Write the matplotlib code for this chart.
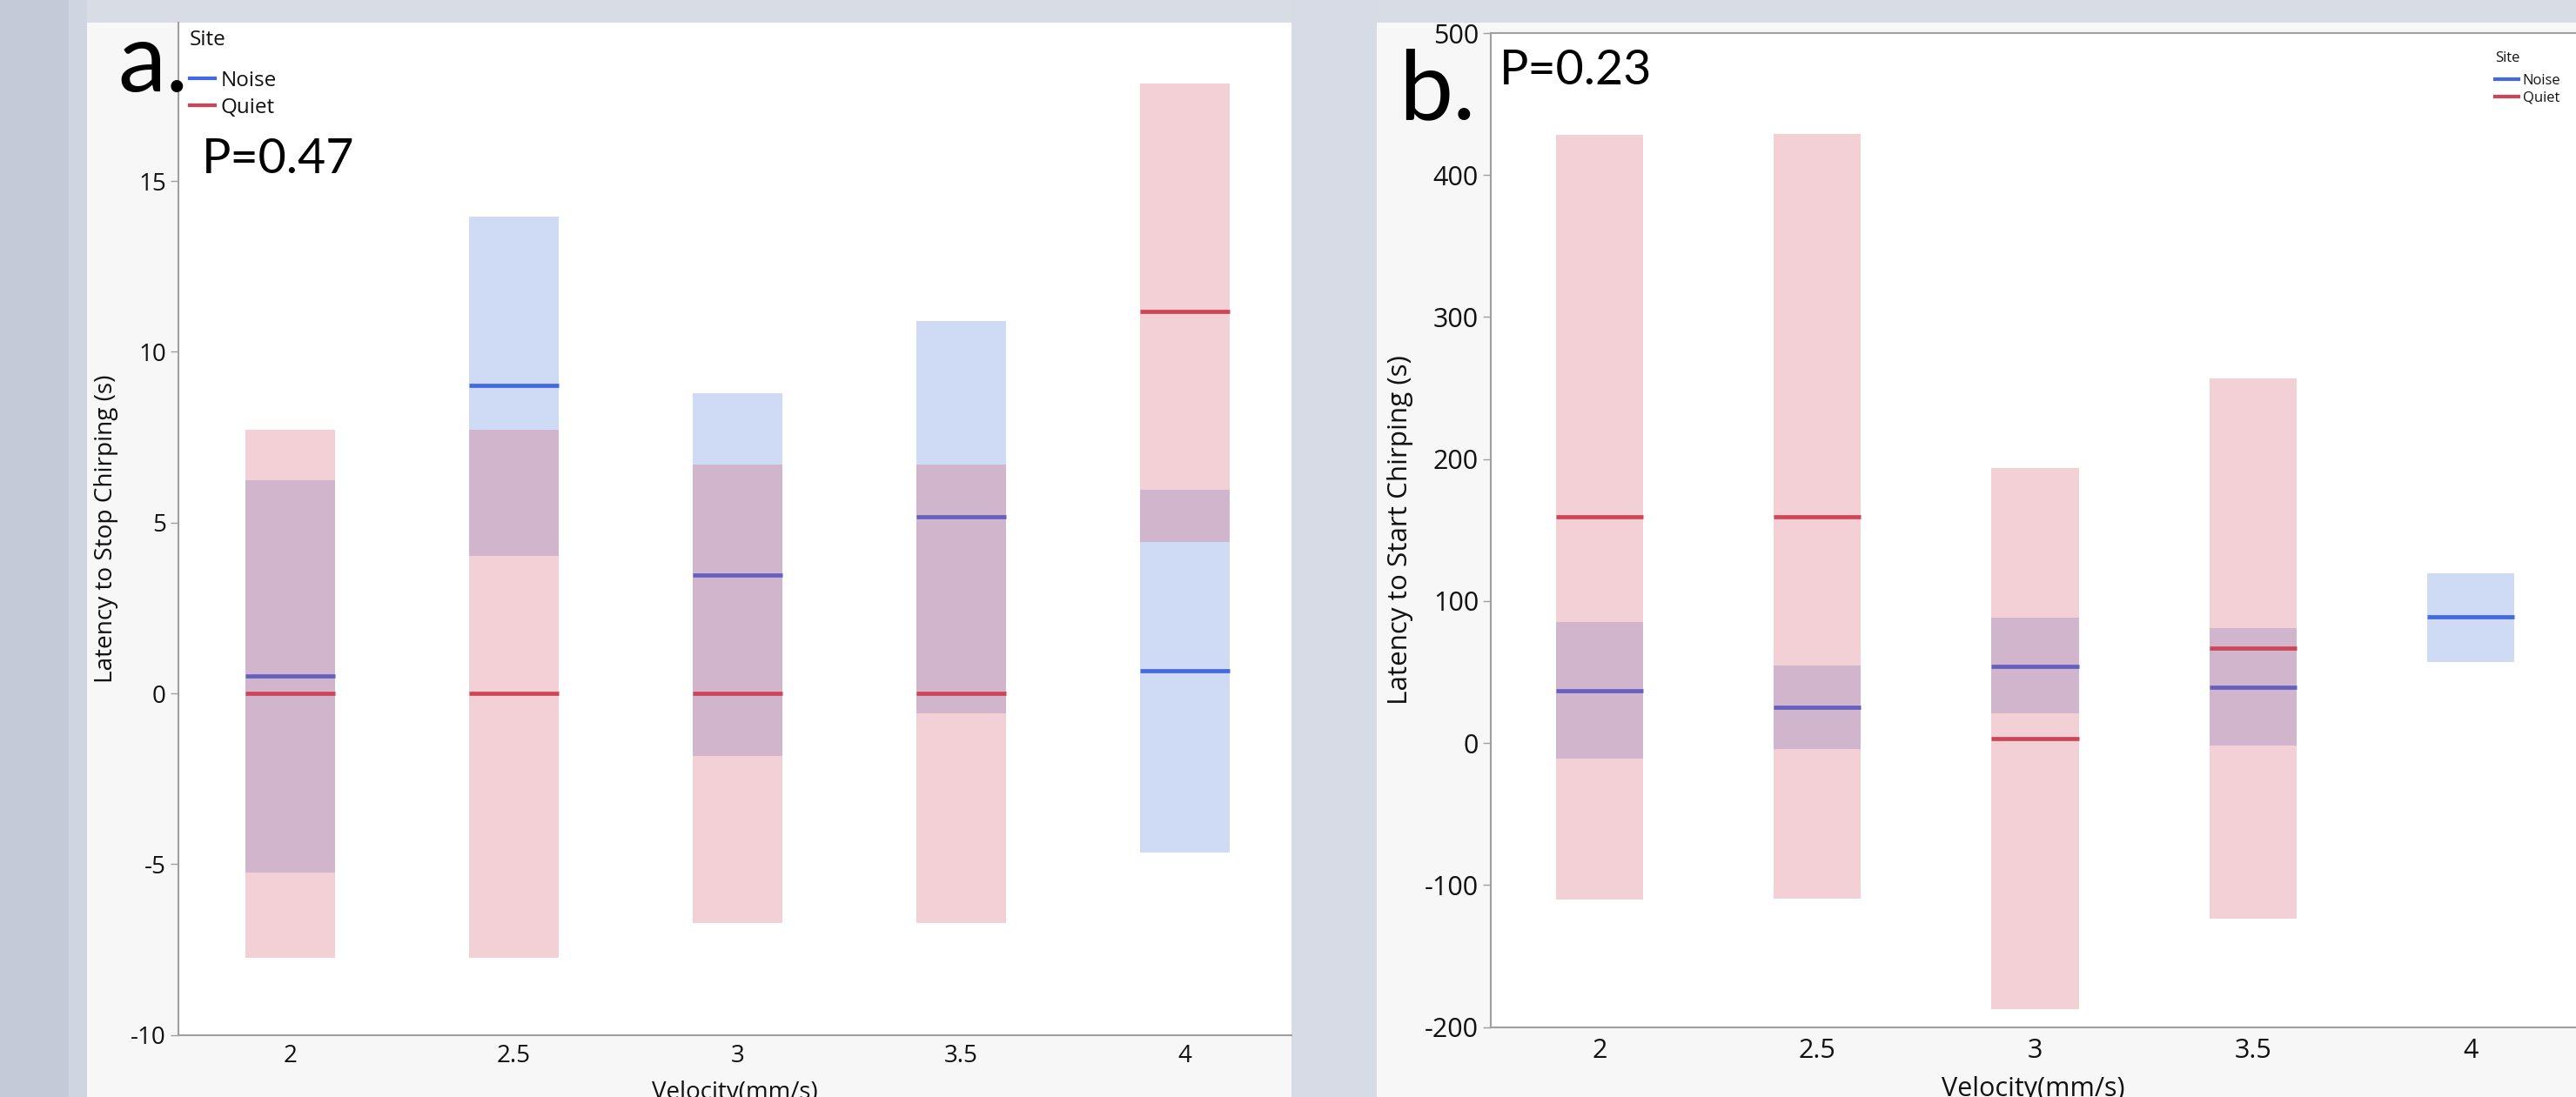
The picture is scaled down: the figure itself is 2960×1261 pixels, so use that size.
import numpy as np
import matplotlib
matplotlib.use("Agg")
import matplotlib.pyplot as plt
from matplotlib.patches import Rectangle
from matplotlib.lines import Line2D

# ---------------- data ----------------
velocities = ["2", "2.5", "3", "3.5", "4"]
site_labels = ["Noise", "Quiet"]

# (a) Latency to stop chirping (s): mean and interval
stop_noise_mean = [0.51, 9.02, 3.47, 5.17, 0.65]
stop_noise_lo = [-5.24, 4.03, -1.84, -0.58, -4.67]
stop_noise_hi = [6.23, 13.95, 8.78, 10.90, 5.95]
stop_quiet_mean = [0.0, 0.0, 0.0, 0.0, 11.19]
stop_quiet_lo = [-7.74, -7.74, -6.72, -6.72, 4.44]
stop_quiet_hi = [7.73, 7.73, 6.69, 6.69, 17.86]

# (b) Latency to start chirping (s): mean and interval
start_noise_mean = [36.9, 25.1, 54.2, 39.4, 88.7]
start_noise_lo = [-10.9, -4.5, 20.7, -2.0, 57.1]
start_noise_hi = [85.2, 54.7, 88.2, 80.8, 119.7]
start_quiet_mean = [159.1, 159.1, 3.4, 67.0, np.nan]
start_quiet_lo = [-110.4, -109.9, -187.3, -123.7, np.nan]
start_quiet_hi = [428.2, 429.2, 193.6, 256.7, np.nan]

stop_yticks = [-10, -5, 0, 5, 10, 15]
start_yticks = [-200, -100, 0, 100, 200, 300, 400, 500]

# ---------------- style ----------------
plt.rcParams["font.family"] = ["Open Sans", "DejaVu Sans"]
plt.rcParams["axes.unicode_minus"] = False
NOISE_LINE = "#4169E1"
QUIET_LINE = "#D04555"
NOISE_FILL = (67 / 255, 111 / 255, 215 / 255, 0.25)
QUIET_FILL = (211 / 255, 71 / 255, 91 / 255, 0.25)
SPINE = "#a0a0a0"
TXT = "#111111"
MEAN_LW = 3.4

W, H, DPI = 2960, 1261, 100
fig = plt.figure(figsize=(W / DPI, H / DPI), dpi=DPI, facecolor="#f7f7f7")


def fx(px):
    return px / W


def fy(py):
    return 1 - py / H


def bg(x0, y0, x1, y1, color):
    fig.patches.append(Rectangle((fx(x0), fy(y1)), fx(x1) - fx(x0), fy(y0) - fy(y1),
                                 transform=fig.transFigure, facecolor=color,
                                 edgecolor="none", zorder=-10))


bg(0, 0, W, 26, "#d8dce4")
bg(1582, 0, W, 24, "#d8dce4")
bg(1484, 0, 1582, H, "#d6dbe5")
bg(79, 0, 100, H, "#d0d6e1")
bg(0, 0, 79, H, "#c4cbd8")


def draw_panel(ax, n_mean, n_lo, n_hi, q_mean, q_lo, q_hi):
    x = np.arange(len(velocities))
    n_lo, n_hi, n_mean = map(np.asarray, (n_lo, n_hi, n_mean))
    q_lo, q_hi, q_mean = map(np.asarray, (q_lo, q_hi, q_mean))
    m = ~np.isnan(n_mean)
    ax.bar(x[m], (n_hi - n_lo)[m], bottom=n_lo[m], width=0.4, color=NOISE_FILL,
           linewidth=0, zorder=1)
    ax.hlines(n_mean[m], x[m] - 0.2, x[m] + 0.2, colors=NOISE_LINE, linewidth=MEAN_LW, zorder=2)
    m = ~np.isnan(q_mean)
    ax.bar(x[m], (q_hi - q_lo)[m], bottom=q_lo[m], width=0.4, color=QUIET_FILL,
           linewidth=0, zorder=3)
    ax.hlines(q_mean[m], x[m] - 0.2, x[m] + 0.2, colors=QUIET_LINE, linewidth=MEAN_LW, zorder=4)
    ax.set_xticks(x)
    ax.set_xticklabels(velocities)


def make_legend(ax, anchor_px, size, handlelength, handletextpad, labelspacing, extra_gap, lw):
    handles = [Line2D([], [], color=NOISE_LINE, lw=lw), Line2D([], [], color=QUIET_LINE, lw=lw)]
    leg = ax.legend(handles, site_labels, title="Site", loc="upper left",
                    bbox_to_anchor=(fx(anchor_px[0]), fy(anchor_px[1])),
                    bbox_transform=fig.transFigure, frameon=False,
                    prop={"family": "Open Sans", "size": size},
                    title_fontproperties={"family": "Open Sans", "size": size},
                    handlelength=handlelength, handletextpad=handletextpad,
                    labelspacing=labelspacing, borderpad=0, borderaxespad=0,
                    alignment="left")
    leg._legend_box.sep = labelspacing * size + extra_gap
    for t in leg.get_texts():
        t.set_color(TXT)
    leg.get_title().set_color(TXT)
    return leg


# ---------------- panel a ----------------
axA = fig.add_axes([fx(205), fy(1189.5), fx(1484) - fx(205), fy(26) - fy(1189.5)])
axA.set_facecolor("white")
draw_panel(axA, stop_noise_mean, stop_noise_lo, stop_noise_hi,
           stop_quiet_mean, stop_quiet_lo, stop_quiet_hi)
axA.set_xlim(-0.5, -0.5 + 1279 / 257)
axA.set_ylim(-10, -10 + 1163.5 / 39.25)
axA.set_yticks(stop_yticks)
axA.spines[["top", "right"]].set_visible(False)
for s in ("left", "bottom"):
    axA.spines[s].set_color(SPINE)
    axA.spines[s].set_linewidth(1.5)
axA.tick_params(axis="y", length=6.5, width=1, color=SPINE, pad=3.6, labelsize=20, labelcolor=TXT)
axA.tick_params(axis="x", length=0, pad=7.5, labelsize=20, labelcolor=TXT)
axA.set_ylabel("Latency to Stop Chirping (s)", fontsize=20.2, color=TXT)
axA.yaxis.set_label_coords((122 - 205) / 1279, 0.5)
axA.yaxis.label.set_verticalalignment("center")
axA.set_xlabel("Velocity(mm/s)", fontsize=20, color=TXT)
axA.xaxis.set_label_coords(0.5, -(1263 - 1189.5) / 1163.5)
axA.xaxis.label.set_verticalalignment("baseline")

make_legend(axA, (218, 34), 17.5, 1.2, 0.25, 0.3, 11, 3)

fig.text(fx(135), fy(105), "a.", fontsize=80, family="Lato", ha="left", va="baseline")
fig.text(fx(232), fy(199), "P=0.47", fontsize=40, family="Lato", ha="left", va="baseline")

# ---------------- panel b ----------------
axB = fig.add_axes([fx(1713), fy(1180.5), fx(2960) - fx(1713), fy(38) - fy(1180.5)])
axB.set_facecolor("white")
draw_panel(axB, start_noise_mean, start_noise_lo, start_noise_hi,
           start_quiet_mean, start_quiet_lo, start_quiet_hi)
axB.set_xlim(-0.5, -0.5 + 1247 / 250.2)
axB.set_ylim(-200, 500)
axB.set_yticks(start_yticks)
axB.spines["right"].set_visible(False)
for s in ("left", "bottom", "top"):
    axB.spines[s].set_color(SPINE)
    axB.spines[s].set_linewidth(1.5)
axB.tick_params(axis="y", length=6.5, width=1, color=SPINE, pad=3.6, labelsize=22, labelcolor=TXT)
axB.tick_params(axis="x", length=0, pad=9.3, labelsize=22, labelcolor=TXT)
axB.set_ylabel("Latency to Start Chirping (s)", fontsize=22.6, color=TXT)
axB.yaxis.set_label_coords((1609 - 1713) / 1247, 0.5)
axB.yaxis.label.set_verticalalignment("center")
axB.set_xlabel("Velocity(mm/s)", fontsize=22, color=TXT)
axB.xaxis.set_label_coords(0.5, -(1260 - 1180.5) / 1142.5)
axB.xaxis.label.set_verticalalignment("baseline")

make_legend(axB, (2867, 59), 12, 1.6, 0.3, 0.22, 4.5, 3)

fig.text(fx(1607), fy(136.7), "b.", fontsize=80, family="Lato", ha="left", va="baseline")
fig.text(fx(1723), fy(96.7), "P=0.23", fontsize=40, family="Lato", ha="left", va="baseline")

fig.savefig("out.png", dpi=DPI, facecolor=fig.get_facecolor())
